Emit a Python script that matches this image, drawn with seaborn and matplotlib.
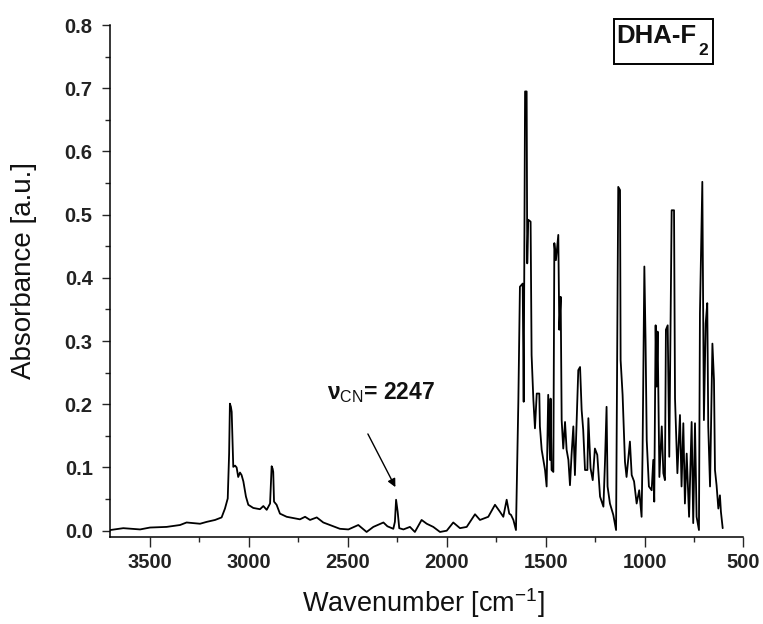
import matplotlib
matplotlib.use("Agg")
import matplotlib.pyplot as plt
import seaborn as sns
import pandas as pd
from matplotlib.patches import Rectangle

# ---- data ----
wavenumber = [
    3702, 3635, 3550, 3500, 3416, 3348, 3315, 3247, 3213, 3171, 3138, 3121, 3107,
    3100, 3096, 3091, 3087, 3082, 3079, 3070, 3062, 3054, 3045, 3037, 3028, 3015,
    3003, 2978, 2944, 2927, 2910, 2893, 2885, 2880, 2877, 2873, 2860, 2843, 2809,
    2775, 2742, 2716, 2691, 2657, 2624, 2590, 2540, 2497, 2447, 2405, 2371, 2320,
    2300, 2270, 2262, 2256, 2248, 2240, 2219, 2186, 2161, 2127, 2101, 2068, 2034,
    2000, 1967, 1933, 1899, 1857, 1832, 1790, 1756, 1731, 1714, 1697, 1684, 1675,
    1663, 1650,
    1638, 1630, 1616, 1611, 1604, 1596, 1593, 1588, 1576, 1571, 1562, 1554, 1545,
    1532, 1529, 1520, 1503, 1495, 1487, 1478, 1475, 1470, 1461, 1456, 1448, 1436,
    1431, 1424, 1419, 1411, 1402, 1394, 1385, 1377, 1369, 1360, 1352, 1335, 1326,
    1318, 1310, 1301, 1289, 1284, 1273, 1262, 1251, 1239, 1225, 1208, 1200, 1192,
    1187, 1175, 1158, 1144, 1133, 1124, 1121, 1111, 1099, 1091, 1074, 1065, 1053,
    1040, 1027, 1015, 1010, 1001, 995, 989, 978, 964, 956, 951, 944, 939, 934,
    925, 913, 905, 897, 892, 883, 875, 863, 851, 846, 834, 821, 813, 804, 796,
    787, 775, 762, 754, 745, 737, 725, 720, 708, 700, 691, 683, 678, 669, 657,
    649, 644, 636, 627, 619, 614, 605,
]
absorbance = [
    0.001, 0.004, 0.002, 0.005, 0.006, 0.009, 0.013, 0.011, 0.014, 0.017, 0.021, 0.035, 0.051,
    0.122, 0.201, 0.196, 0.188, 0.133, 0.101, 0.103, 0.100, 0.085, 0.092, 0.088, 0.078, 0.054,
    0.041, 0.036, 0.034, 0.039, 0.033, 0.043, 0.102, 0.098, 0.093, 0.046, 0.041, 0.027, 0.022,
    0.020, 0.018, 0.022, 0.017, 0.021, 0.013, 0.009, 0.003, 0.002, 0.009, -0.002, 0.006, 0.013,
    0.007, 0.003, 0.014, 0.049, 0.030, 0.004, 0.002, 0.006, -0.002, 0.017, 0.011, 0.006, -0.002,
    0.000, 0.013, 0.004, 0.006, 0.026, 0.017, 0.022, 0.041, 0.030, 0.022, 0.049, 0.027, 0.025,
    0.017, 0.001,
    0.204, 0.386, 0.391, 0.204, 0.695, 0.695, 0.423, 0.492, 0.489, 0.278, 0.207, 0.162, 0.217,
    0.217, 0.165, 0.128, 0.096, 0.070, 0.215, 0.112, 0.209, 0.096, 0.093, 0.455, 0.428, 0.468,
    0.318, 0.370, 0.175, 0.130, 0.172, 0.128, 0.112, 0.072, 0.120, 0.165, 0.088, 0.254, 0.259,
    0.191, 0.159, 0.096, 0.096, 0.178, 0.099, 0.080, 0.130, 0.120, 0.054, 0.038, 0.109, 0.196,
    0.070, 0.043, 0.025, 0.001, 0.544, 0.539, 0.270, 0.215, 0.109, 0.085, 0.141, 0.088, 0.078,
    0.043, 0.064, 0.022, 0.125, 0.418, 0.302, 0.143, 0.070, 0.064, 0.112, 0.046, 0.325, 0.228, 0.315,
    0.085, 0.165, 0.091, 0.080, 0.318, 0.325, 0.117, 0.507, 0.507, 0.209, 0.091, 0.183, 0.070, 0.170, 0.043,
    0.122, 0.022, 0.172, 0.012, 0.170, 0.022, 0.001, 0.344, 0.552, 0.175, 0.328, 0.360, 0.165, 0.070, 0.296,
    0.238, 0.096, 0.072, 0.035, 0.056, 0.030, 0.004,
]
x_ticks = [3500, 3000, 2500, 2000, 1500, 1000, 500]
x_minor_ticks = [3250, 2750, 2250, 1750, 1250, 750]
y_ticks = [0.0, 0.1, 0.2, 0.3, 0.4, 0.5, 0.6, 0.7, 0.8]
y_minor_ticks = [0.05, 0.15, 0.25, 0.35, 0.45, 0.55, 0.65, 0.75]
x_label = r"Wavenumber [cm$^{\mathregular{-1}}$]"
y_label = "Absorbance [a.u.]"
sample_name = "DHA-F"
sample_sub = "2"
peak_label = r"$\nu_{\mathrm{CN}}$= 2247"
peak_arrow_head = (2253, 0.065)
peak_arrow_tail = (2405, 0.157)
peak_text_pos = (2607, 0.208)

# ---- style ----
sns.set_style("ticks")
plt.rcParams["font.family"] = ["Liberation Sans", "DejaVu Sans"]
plt.rcParams["mathtext.fontset"] = "custom"
plt.rcParams["mathtext.rm"] = "Liberation Sans"
plt.rcParams["mathtext.it"] = "Liberation Sans:bold"
plt.rcParams["mathtext.bf"] = "Liberation Sans:bold"

fig = plt.figure(figsize=(7.63, 6.24), dpi=100)
ax = fig.add_axes([0.1442, 0.1399, 0.8302, 0.8199])

df = pd.DataFrame({"Wavenumber": wavenumber, "Absorbance": absorbance})
sns.lineplot(data=df, x="Wavenumber", y="Absorbance", sort=False, estimator=None,
             color="black", lw=1.3, ax=ax)

ax.set_xlim(3702, 500)
ax.set_ylim(-0.0095, 0.8)
ax.set_xticks(x_ticks)
ax.set_xticks(x_minor_ticks, minor=True)
ax.set_yticks(y_ticks)
ax.set_yticks(y_minor_ticks, minor=True)
ax.set_xticklabels([str(v) for v in x_ticks], fontsize=14.5, fontweight="bold", color="#222222")
ax.set_yticklabels([f"{v:.1f}" for v in y_ticks], fontsize=14.5, fontweight="bold", color="#222222")
ax.tick_params(axis="x", which="major", direction="out", length=7, width=1.0, pad=4.5)
ax.tick_params(axis="x", which="minor", direction="out", length=3.6, width=1.0)
ax.tick_params(axis="y", which="major", direction="out", length=6, width=1.0, pad=6.5)
ax.tick_params(axis="y", which="minor", direction="out", length=3.5, width=1.0)
sns.despine(ax=ax)
for s in ["left", "bottom"]:
    ax.spines[s].set_linewidth(1.1)
    ax.spines[s].set_color("black")

ax.set_xlabel(x_label, fontsize=19.5, color="#111111")
ax.set_ylabel(y_label, fontsize=20, color="#111111")
ax.xaxis.label.set_va("center")
ax.yaxis.label.set_va("center")
ax.xaxis.set_label_coords(0.494, -0.1296)
ax.yaxis.set_label_coords(-0.136, 0.521)

ax.annotate("", xy=peak_arrow_head, xytext=peak_arrow_tail,
            arrowprops=dict(arrowstyle="-|>", color="black", lw=1.0, mutation_scale=12))
ax.text(peak_text_pos[0], peak_text_pos[1], peak_label, fontsize=16.5, fontweight="bold",
        ha="left", va="baseline", color="#111111")

ax.add_patch(Rectangle((0.7956, 0.9234), 0.1567, 0.088, transform=ax.transAxes,
                       fill=False, lw=1.4, ec="black", clip_on=False))
ax.text(0.7985, 0.9644, sample_name, transform=ax.transAxes, fontsize=18.5,
        fontweight="bold", ha="left", va="baseline", color="#111111")
ax.text(0.9290, 0.941, sample_sub, transform=ax.transAxes, fontsize=12.5,
        fontweight="bold", ha="left", va="baseline", color="#111111")

fig.savefig("out.png", dpi=100)
